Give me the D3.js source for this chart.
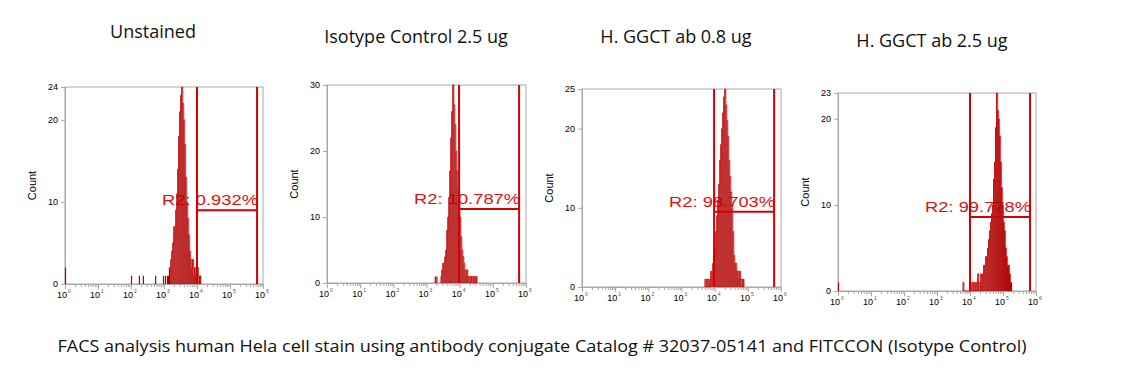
<!DOCTYPE html>
<html>
<head>
<meta charset="utf-8">
<script src="https://cdn.jsdelivr.net/npm/d3@7"></script>
<style>
  body { margin: 0; background: #fff; }
  svg { display: block; }
</style>
</head>
<body>
<script>
// chart data
var titles = ["Unstained", "Isotype Control 2.5 ug", "H. GGCT ab 0.8 ug", "H. GGCT ab 2.5 ug"];
var yMax = [24, 30, 25, 23];
var yTicks = [[0, 10, 20, 24], [0, 10, 20, 30], [0, 10, 20, 25], [0, 10, 20, 23]];
var gateLow = [1e4, 9.6e3, 9.6e3, 1e4];
var gateHigh = [6.6e5, 6.2e5, 6.2e5, 6.6e5];
var gateCount = [9.0, 11.2, 9.5, 8.6];
var gateLabels = ["R2: 0.932%", "R2: 10.787%", "R2: 98.703%", "R2: 99.778%"];
// histogram bins: first bin (log10 of intensity), step of 0.03 decade
var binStart = [3.18, 3.437, 3.708, 3.788];
var binStep = 0.03;
var counts1 = [2,3,4,5,7,6,9,11,14,18,21,23,24,22,20,17,13,10,8,6,4,3,2,3,1,2,1,1,2,0,1,1];
var counts2 = [1,2,3,3,4,5,8,10,13,17,22,26,30,27,24,20,17,14,12,10,7,5,4,3,2,1,2,1,1,0,1,1,0,1,0,1,1];
var counts3 = [1,0,1,1,0,1,2,1,3,4,5,7,9,11,13,16,18,20,22,24,25,23,21,19,16,14,12,10,7,4,3,3,2,2,1,2,1,0,1,1];
var counts4 = [1,0,0,0,0,0,0,0,0,1,0,1,0,1,0,2,1,0,2,1,2,3,3,4,4,5,6,7,8,9,10,13,15,19,23,21,20,18,15,12,10,8,7,5,4,3,3,2,1,1];
// isolated events [log10 intensity, count]
var strays1 = [[0, 2], [2.0, 1], [2.24, 1], [2.36, 1], [2.73, 1], [2.97, 1], [3.03, 1], [3.09, 1], [3.12, 1], [3.15, 2]];
var strays2 = [[3.25, 1], [3.30, 1]];
var strays3 = [];
var strays4 = [[0, 1]];
var xDecades = [0, 1, 2, 3, 4, 5, 6];
var caption = "FACS analysis human Hela cell stain using antibody conjugate Catalog # 32037-05141 and FITCCON (Isotype Control)";

var allCounts = [counts1, counts2, counts3, counts4];
var allStrays = [strays1, strays2, strays3, strays4];

// layout of the four plot frames
var frames = [
  {x0: 65, x1: 263, y0: 87, y1: 284, tx: 153, ty: 38},
  {x0: 327, x1: 526, y0: 85, y1: 283, tx: 416, ty: 43},
  {x0: 582, x1: 781, y0: 89, y1: 287, tx: 676, ty: 43},
  {x0: 838, x1: 1036, y0: 93, y1: 291, tx: 932, ty: 47}
];

var width = 1139, height = 378;

var svg = d3.select("body").append("svg")
    .attr("width", width)
    .attr("height", height);

var histColor = "#b00000",
    gateColor = "#d40000",
    frameColor = "#a8a8a8";

frames.forEach(function(f, p) {
  var x = d3.scaleLog().domain([1, 1e6]).range([f.x0, f.x1]);
  var y = d3.scaleLinear().domain([0, yMax[p]]).range([f.y1, f.y0]);
  var g = svg.append("g");

  // title
  svg.append("text")
      .attr("x", f.tx)
      .attr("y", f.ty)
      .attr("text-anchor", "middle")
      .attr("font-family", "'Open Sans', sans-serif")
      .attr("font-size", 18)
      .attr("fill", "#111")
      .text(titles[p]);

  // frame
  g.append("rect")
      .attr("x", f.x0).attr("y", f.y0)
      .attr("width", f.x1 - f.x0).attr("height", f.y1 - f.y0)
      .attr("fill", "none")
      .attr("stroke", frameColor)
      .attr("stroke-width", 1);

  // y axis
  var yAxis = d3.axisLeft(y).tickValues(yTicks[p]).tickSize(4).tickPadding(3);
  var ya = g.append("g")
      .attr("transform", "translate(" + f.x0 + ",0)")
      .call(yAxis);
  ya.select(".domain").attr("stroke", frameColor);
  ya.selectAll(".tick line").attr("stroke", frameColor);
  ya.selectAll("text")
      .attr("font-family", "'Liberation Sans', Arial, sans-serif")
      .attr("font-size", 9)
      .attr("fill", "#000");

  // x axis: minor log ticks
  var minor = [];
  xDecades.slice(0, -1).forEach(function(d) {
    for (var k = 2; k <= 9; k++) minor.push(k * Math.pow(10, d));
  });
  var xa = g.append("g")
      .attr("transform", "translate(0," + f.y1 + ")");
  xa.call(d3.axisBottom(x).tickValues(minor).tickSize(3).tickFormat(""));
  xa.call(function(s) { s.select(".domain").remove(); });
  var xb = g.append("g")
      .attr("transform", "translate(0," + f.y1 + ")")
      .call(d3.axisBottom(x)
        .tickValues(xDecades.map(function(d) { return Math.pow(10, d); }))
        .tickSize(5)
        .tickFormat(""));
  xb.select(".domain").attr("stroke", frameColor);
  g.selectAll(".tick line").attr("stroke", frameColor);

  var lab = g.selectAll(".xlab")
      .data(xDecades)
      .enter().append("text")
      .attr("class", "xlab")
      .attr("x", function(d) { return x(Math.pow(10, d)) - 1; })
      .attr("y", f.y1 + 14)
      .attr("text-anchor", "middle")
      .attr("font-family", "'Liberation Sans', Arial, sans-serif")
      .attr("font-size", 9)
      .attr("fill", "#000");
  lab.append("tspan").text("10");
  lab.append("tspan")
      .attr("dx", 1)
      .attr("dy", -5)
      .attr("font-size", 5)
      .attr("fill", "#555")
      .text(function(d) { return d; });

  // y label
  g.append("text")
      .attr("transform", "translate(" + (f.x0 - 29) + "," + ((f.y0 + f.y1) / 2) + ") rotate(-90)")
      .attr("text-anchor", "middle")
      .attr("font-family", "'Liberation Sans', Arial, sans-serif")
      .attr("font-size", 11)
      .attr("fill", "#000")
      .text("Count");

  // gate label (drawn under the histogram)
  g.append("text")
      .attr("x", x(gateHigh[p]) + 1)
      .attr("y", y(gateCount[p]) - 5)
      .attr("text-anchor", "end")
      .attr("font-family", "'Liberation Sans', Arial, sans-serif")
      .attr("font-size", 15)
      .attr("fill", "#e01010")
      .attr("textLength", gateLabels[p].length > 10 ? 106 : 96)
      .attr("lengthAdjust", "spacingAndGlyphs")
      .text(gateLabels[p]);

  // histogram bins
  var bins = allCounts[p].map(function(c, i) {
    return {v: Math.pow(10, binStart[p] + i * binStep), c: c};
  });
  g.selectAll(".bin")
      .data(bins.filter(function(d) { return d.c > 0; }))
      .enter().append("rect")
      .attr("class", "bin")
      .attr("x", function(d) { return x(d.v) - 0.5; })
      .attr("width", 1.1)
      .attr("y", function(d) { return y(d.c); })
      .attr("height", function(d) { return y(0) - y(d.c); })
      .attr("fill", histColor);

  var line = d3.line()
      .x(function(d) { return x(d.v); })
      .y(function(d) { return y(d.c); })
      .curve(d3.curveStepAfter);
  g.append("path")
      .datum(bins)
      .attr("d", line)
      .attr("fill", "none")
      .attr("stroke", "#cc0000")
      .attr("stroke-width", 0.7);

  g.selectAll(".stray")
      .data(allStrays[p])
      .enter().append("line")
      .attr("class", "stray")
      .attr("x1", function(d) { return x(Math.pow(10, d[0])) + 0.5; })
      .attr("x2", function(d) { return x(Math.pow(10, d[0])) + 0.5; })
      .attr("y1", y(0))
      .attr("y2", function(d) { return y(d[1]); })
      .attr("stroke", histColor)
      .attr("stroke-width", 1.2);

  // gate
  [gateLow[p], gateHigh[p]].forEach(function(v) {
    g.append("line")
        .attr("x1", x(v)).attr("x2", x(v))
        .attr("y1", f.y0).attr("y2", f.y1)
        .attr("stroke", gateColor)
        .attr("stroke-width", 2);
  });
  g.append("line")
      .attr("x1", x(gateLow[p])).attr("x2", x(gateHigh[p]))
      .attr("y1", y(gateCount[p])).attr("y2", y(gateCount[p]))
      .attr("stroke", gateColor)
      .attr("stroke-width", 2);
});

// caption
svg.append("text")
    .attr("x", 542)
    .attr("y", 352)
    .attr("text-anchor", "middle")
    .attr("font-family", "'Open Sans', sans-serif")
    .attr("font-size", 16)
    .attr("fill", "#111")
    .attr("textLength", 969)
    .attr("lengthAdjust", "spacingAndGlyphs")
    .text(caption);
</script>
</body>
</html>
